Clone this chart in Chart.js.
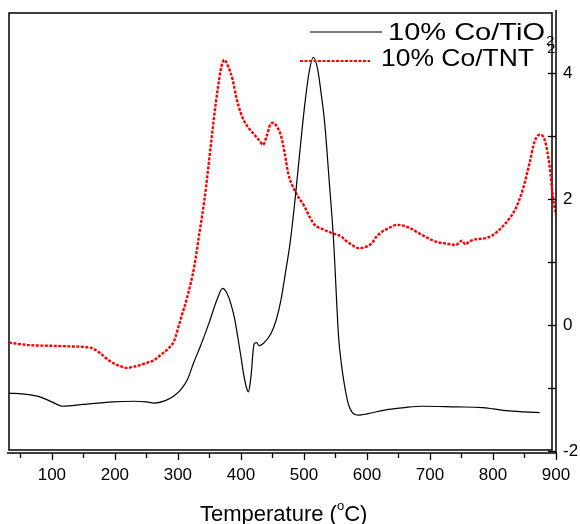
<!DOCTYPE html>
<html>
<head>
<meta charset="utf-8">
<script src="https://cdn.jsdelivr.net/npm/chart.js@4.4.1/dist/chart.umd.min.js"></script>
<style>
html,body{margin:0;padding:0;background:#fff;}
#wrap{width:580px;height:524px;}
</style>
</head>
<body>
<div id="wrap"><canvas id="c" width="580" height="524"></canvas></div>
<script>
// ---- data ----
const tempTiO2 = [32,60,81,100,118,150,197,230,250,262,280,293,305,315,325,336,350,362,371,378,384,390,395,400,405,409,412,415,417,419,421,425,429,437,448,456,464,471,478,485,493,501,508,515,522,527,533,540,547,555,560,563,567,571,576,581,587,600,634,660,688,741,783,800,821,850,874];
const valTiO2  = [-1.08,-1.10,-1.14,-1.22,-1.29,-1.26,-1.22,-1.21,-1.22,-1.24,-1.20,-1.13,-1.02,-0.87,-0.60,-0.33,0.05,0.40,0.58,0.50,0.34,0.10,-0.19,-0.50,-0.82,-1.00,-1.06,-0.90,-0.71,-0.45,-0.30,-0.28,-0.33,-0.28,-0.13,0.08,0.42,0.85,1.30,1.90,2.70,3.47,4.00,4.25,4.05,3.70,3.20,2.30,1.35,-0.19,-0.66,-0.87,-1.10,-1.27,-1.38,-1.42,-1.43,-1.41,-1.34,-1.31,-1.29,-1.30,-1.31,-1.33,-1.36,-1.38,-1.39];
const tempTNT = [32,65,100,130,161,170,177,185,193,205,219,235,251,262,272,284,294,304,315,326,334,342,352,358,363,369,374,380,387,393,400,406,413,424,430,435,441,446,451,457,464,470,475,485,501,510,517,530,544,560,565,575,587,598,608,615,624,635,648,666,680,693,705,714,728,741,751,756,763,773,789,800,810,826,836,847,858,866,874,882,890,895,900];
const valTNT  = [-0.28,-0.32,-0.33,-0.34,-0.36,-0.40,-0.45,-0.52,-0.58,-0.64,-0.68,-0.65,-0.60,-0.56,-0.48,-0.38,-0.25,0.08,0.45,0.93,1.45,1.98,2.83,3.35,3.73,4.10,4.21,4.10,3.89,3.60,3.36,3.22,3.12,2.99,2.92,2.86,3.00,3.17,3.21,3.15,2.99,2.70,2.41,2.14,1.88,1.70,1.59,1.52,1.46,1.40,1.35,1.28,1.22,1.24,1.30,1.40,1.48,1.54,1.59,1.55,1.47,1.40,1.34,1.31,1.29,1.27,1.34,1.28,1.33,1.36,1.38,1.43,1.51,1.69,1.85,2.14,2.57,2.91,3.02,2.94,2.51,2.04,1.75];
const xTicks = [50,100,150,200,250,300,350,400,450,500,550,600,650,700,750,800,850,900];
const yTicks = [-2,-1,0,1,2,3,4];
const xLabelEvery = 100;
const yLabelEvery = 2;
const seriesNames = ['10% Co/TiO', '10% Co/TNT'];
const axisTitle = ['Temperature (', 'o', 'C)'];

const FONT = '"Liberation Sans", Arial, sans-serif';

function pts(xs, ys){ return xs.map((x,i)=>({x:x, y:ys[i]})); }

function stretchText(ctx, text, x, base, width, size){
  ctx.font = size + 'px ' + FONT;
  const w = ctx.measureText(text).width;
  ctx.save();
  ctx.translate(x, base);
  ctx.scale(width / w, 1);
  ctx.textAlign = 'left';
  ctx.textBaseline = 'alphabetic';
  ctx.fillText(text, 0, 0);
  ctx.restore();
}

function noPad(s){ s.paddingTop = 0; s.paddingBottom = 0; s.paddingLeft = 0; s.paddingRight = 0; }

const decor = {
  id: 'decor',
  beforeDatasetsDraw(chart){
    const ctx = chart.ctx;
    const ca = chart.chartArea;
    ctx.save();
    ctx.strokeStyle = '#000';
    ctx.lineWidth = 1.5;
    ctx.strokeRect(ca.left, ca.top + 3, (ca.right - 4) - ca.left, (ca.bottom - 1) - (ca.top + 3));
    ctx.restore();
  },
  afterDraw(chart){
    const ctx = chart.ctx;
    const ca = chart.chartArea;
    const xs = chart.scales.x, ys = chart.scales.y;
    ctx.save();
    ctx.strokeStyle = '#000';
    ctx.fillStyle = '#000';
    ctx.lineWidth = 1.5;
    const axY = ca.bottom + 2;
    const axX = ca.right;
    ctx.beginPath();
    ctx.moveTo(ca.left - 2, axY); ctx.lineTo(axX, axY);
    ctx.moveTo(axX, ca.top); ctx.lineTo(axX, axY);
    ctx.stroke();
    ctx.lineWidth = 1.3;
    xTicks.forEach(v=>{
      const px = Math.round(xs.getPixelForValue(v)) + 0.5;
      const len = (v % xLabelEvery === 0) ? 7 : 5;
      ctx.beginPath(); ctx.moveTo(px, axY); ctx.lineTo(px, axY + len); ctx.stroke();
    });
    yTicks.forEach(v=>{
      const py = Math.round(ys.getPixelForValue(v)) + 0.5;
      ctx.beginPath(); ctx.moveTo(axX, py); ctx.lineTo(axX - 8, py); ctx.stroke();
    });
    // legend
    ctx.lineWidth = 1.1;
    ctx.strokeStyle = '#000';
    ctx.beginPath(); ctx.moveTo(310, 32); ctx.lineTo(382, 32); ctx.stroke();
    ctx.strokeStyle = '#ff0000';
    ctx.lineWidth = 2;
    ctx.setLineDash([3,1.5]);
    ctx.beginPath(); ctx.moveTo(300, 61); ctx.lineTo(370, 61); ctx.stroke();
    ctx.setLineDash([]);
    ctx.fillStyle = '#000';
    stretchText(ctx, seriesNames[0], 388, 40, 157, 24);
    stretchText(ctx, '2', 546, 45, 8.5, 13);
    stretchText(ctx, seriesNames[1], 381, 66, 153, 24);
    stretchText(ctx, '2', 547, 53, 8.5, 13);
    // axis title with superscript
    ctx.textBaseline = 'alphabetic';
    ctx.textAlign = 'left';
    let tx = 200; const tb = 521;
    ctx.font = '22px ' + FONT;
    ctx.fillText(axisTitle[0], tx, tb);
    tx += ctx.measureText(axisTitle[0]).width;
    ctx.font = '13px ' + FONT;
    ctx.fillText(axisTitle[1], tx, tb - 11);
    tx += ctx.measureText(axisTitle[1]).width;
    ctx.font = '22px ' + FONT;
    ctx.fillText(axisTitle[2], tx, tb);
    ctx.restore();
  }
};

new Chart(document.getElementById('c'), {
  type: 'line',
  data: {
    datasets: [
      {
        label: seriesNames[0] + '2',
        data: pts(tempTiO2, valTiO2),
        borderColor: '#000000',
        borderWidth: 1.2,
        pointRadius: 0,
        cubicInterpolationMode: 'monotone',
        fill: false
      },
      {
        label: seriesNames[1],
        data: pts(tempTNT, valTNT),
        borderColor: '#ff0000',
        borderWidth: 2.4,
        borderDash: [3, 1.5],
        pointRadius: 0,
        cubicInterpolationMode: 'monotone',
        fill: false
      }
    ]
  },
  options: {
    responsive: false,
    devicePixelRatio: 1,
    animation: false,
    layout: { autoPadding: false, padding: { left: 9, top: 10, right: 0, bottom: 0 } },
    plugins: { legend: { display: false }, tooltip: { enabled: false } },
    scales: {
      x: {
        type: 'linear',
        position: 'bottom',
        min: 32,
        max: 900,
        grid: { display: false, drawTicks: false },
        border: { display: false },
        afterBuildTicks: (s)=>{ s.ticks = xTicks.map(v=>({value:v})); },
        afterFit: (s)=>{ s.height = 73; noPad(s); },
        ticks: {
          autoSkip: false,
          maxRotation: 0,
          padding: 14,
          color: '#000',
          font: { family: FONT, size: 17 },
          callback: (v)=> (v % xLabelEvery === 0 ? String(v) : '')
        }
      },
      y: {
        type: 'linear',
        position: 'right',
        min: -2,
        max: 5,
        grid: { display: false, drawTicks: false },
        border: { display: false },
        afterBuildTicks: (s)=>{ s.ticks = yTicks.map(v=>({value:v})); },
        afterFit: (s)=>{ s.width = 24; noPad(s); },
        ticks: {
          autoSkip: false,
          padding: 7,
          color: '#000',
          font: { family: FONT, size: 17 },
          callback: (v)=> (v % yLabelEvery === 0 ? String(v) : '')
        }
      }
    }
  },
  plugins: [decor]
});
</script>
</body>
</html>
